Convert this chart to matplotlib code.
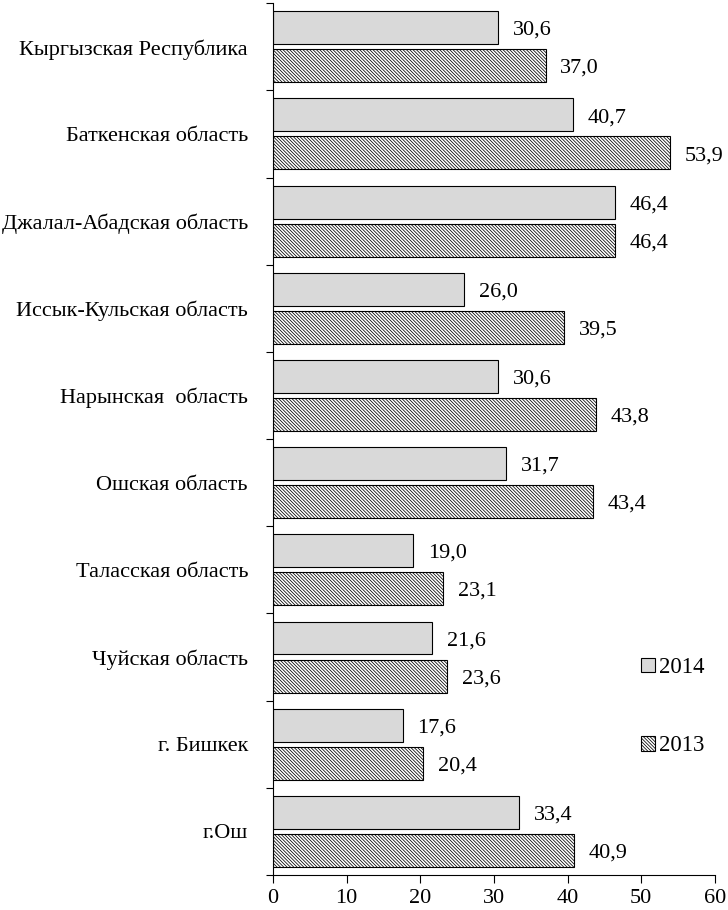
import matplotlib
matplotlib.use("Agg")
import matplotlib.pyplot as plt
import numpy as np
from matplotlib.patches import Patch

plt.rcParams['font.family'] = ['Liberation Serif', 'DejaVu Serif']
plt.rcParams['hatch.linewidth'] = 0.55
plt.rcParams['hatch.color'] = '#333333'

regions = ["Кыргызская Республика", "Баткенская область", "Джалал-Абадская область",
           "Иссык-Кульская область", "Нарынская  область", "Ошская область",
           "Таласская область", "Чуйская область", "г. Бишкек", "г.Ош"]
v2014 = [30.6, 40.7, 46.4, 26.0, 30.6, 31.7, 19.0, 21.6, 17.6, 33.4]
v2013 = [37.0, 53.9, 46.4, 39.5, 43.8, 43.4, 23.1, 23.6, 20.4, 40.9]
xticks = [0, 10, 20, 30, 40, 50, 60]

FS = 16
HATCH = '\\' * 10

fig = plt.figure(figsize=(7.28, 9.10), dpi=100)
ax = fig.add_axes([0.375, 0.0385, 0.607, 0.958])

n = len(regions)
y = np.arange(n)
h = 0.378
gap = 0.029
b1 = ax.barh(y - h/2 - gap, v2014, height=h, color='#d9d9d9', edgecolor='black', linewidth=0.8, label='2014')
b2 = ax.barh(y + h/2 + gap, v2013, height=h, color='white', edgecolor='black', linewidth=0.8,
             hatch=HATCH, label='2013')

for rect, v in zip(b1, v2014):
    ax.text(v + 2.0, rect.get_y() + rect.get_height()/2 + 0.03, f"{v:.1f}".replace('.', ','),
            va='center', ha='left', fontsize=FS)
for rect, v in zip(b2, v2013):
    ax.text(v + 2.0, rect.get_y() + rect.get_height()/2 + 0.03, f"{v:.1f}".replace('.', ','),
            va='center', ha='left', fontsize=FS)

ax.set_ylim(n - 0.5, -0.5)
ax.set_xlim(0, 60)
ax.set_xticks(xticks)
ax.set_xticklabels([str(t) for t in xticks], fontsize=FS)
ax.set_yticks(y)
ax.set_yticklabels(regions, fontsize=FS)
ax.tick_params(axis='y', length=0, pad=18)
ax.set_yticks(np.arange(-0.5, n, 1.0), minor=True)
ax.tick_params(axis='y', which='minor', length=5, width=0.8)
ax.tick_params(axis='x', length=6, width=0.8, pad=4)
for s in ['top', 'right']:
    ax.spines[s].set_visible(False)
for s in ['left', 'bottom']:
    ax.spines[s].set_linewidth(0.8)

handles = [Patch(facecolor='#d9d9d9', edgecolor='black', linewidth=0.8, label='2014'),
           Patch(facecolor='white', edgecolor='black', linewidth=0.8, hatch=HATCH, label='2013')]
ax.legend(handles=handles, loc='upper left', bbox_to_anchor=(0.833, 0.25), frameon=False,
          fontsize=16.5, handlelength=0.6, handleheight=0.6, handletextpad=0.2,
          labelspacing=2.5, borderaxespad=0, borderpad=0)

fig.savefig("out.png", dpi=100)
